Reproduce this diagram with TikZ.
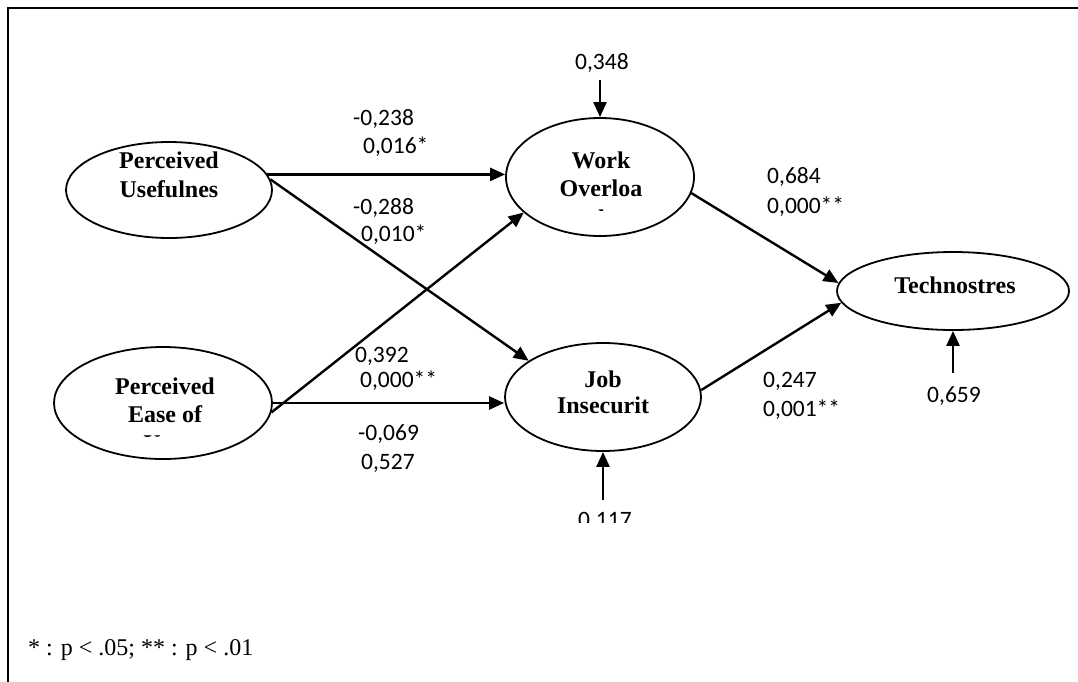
\documentclass[tikz,border=0pt]{standalone}
\usepackage{fontspec}
\setmainfont{Liberation Serif}
\newfontfamily\numfont{Carlito}
\usetikzlibrary{shapes.geometric,arrows.meta}
\tikzset{
  construct/.style={draw, ellipse, line width=1.8pt, inner sep=0pt},
  ctext/.style={anchor=base, font=\fontsize{24}{28}\selectfont\bfseries, inner sep=0pt},
  coef/.style={anchor=base west, font=\numfont\fontsize{23.5}{27}\selectfont, inner sep=0pt},
  path/.style={line width=2.4pt, -{Triangle[length=15pt,width=13pt]}},
}
\begin{document}
\begin{tikzpicture}[x=1pt,y=-1pt]
\useasboundingbox (0,0) rectangle (1078,681);
% outer frame
\draw[line width=2pt] (8,700) -- (8,8) -- (1090,8);

% latent constructs
\node[construct, minimum width=206pt, minimum height=96pt]  (pu)   at (169,190) {};
\node[construct, minimum width=218pt, minimum height=112pt] (peu)  at (163,403) {};
\node[construct, minimum width=188pt, minimum height=118pt] (wo)   at (600,177) {};
\node[construct, minimum width=196pt, minimum height=108pt] (ji)   at (603,397) {};
\node[construct, minimum width=232pt, minimum height=78pt]  (tech) at (953,291) {};

% construct labels
\node[ctext] (pu1) at (169,168) {Perceived};
\node[ctext] (pu2) at (169,197) {Usefulnes};
\node[ctext] (pe1) at (165,394) {Perceived};
\node[ctext] (pe2) at (165,422) {Ease of};
\begin{scope}
  \clip (100,425) rectangle (230,436);
  \node[ctext] (pe3) at (152,451) {U};
\end{scope}
\node[ctext] (wo1) at (601,168) {Work};
\node[ctext] (wo2) at (601,196) {Overloa};
\begin{scope}
  \clip (560,203) rectangle (650,210);
  \node[ctext] (wo3) at (598,226) {d};
\end{scope}
\node[ctext] (ji1) at (603,387) {Job};
\node[ctext] (ji2) at (603,413) {Insecurit};
\node[ctext] (te1) at (955,293) {Technostres};

% error terms
\coordinate (ewo) at (600,80);
\coordinate (eji) at (603,500);
\coordinate (ete) at (953,373);
\node[coef] (c348) at (575,69) {0,348};
\begin{scope}
  \clip (560,495) rectangle (650,522);
  \node[coef] (c117) at (578,527) {0,117};
\end{scope}
\node[coef] (c659) at (927,402) {0,659};
\draw[path] (ewo) -- (wo.north);
\draw[path] (eji) -- (ji.south);
\draw[path] (ete) -- (tech.south);

% structural paths
\draw[path] (pu.9) -- (pu.9 -| wo.west);
\draw[path] (pu.6) -- (ji.154);
\draw[path] (peu.-5) -- (wo.205);
\draw[path] (peu.east) -- (peu.east -| ji.west);
\draw[path] (wo.-10) -- (tech.176);
\draw[path] (ji.4) -- (tech.186);

% path coefficients and p-values
\node[coef] (a1) at (353,125) {-0,238};
\node[coef] (a2) at (363,153) {0,016*};
\node[coef] (b1) at (353,214) {-0,288};
\node[coef] (b2) at (361,241) {0,010*};
\node[coef] (d1) at (355,362) {0,392};
\node[coef] (d2) at (360,387) {0,000**};
\node[coef] (f1) at (358,440) {-0,069};
\node[coef] (f2) at (361,469) {0,527};
\node[coef] (g1) at (767,183) {0,684};
\node[coef] (g2) at (767,213) {0,000**};
\node[coef] (h1) at (763,387) {0,247};
\node[coef] (h2) at (763,416) {0,001**};

% significance legend
\node[anchor=base west, inner sep=0pt, font=\fontsize{24}{28}\selectfont] (legend) at (28,655) {* : p < .05; ** : p < .01};
\end{tikzpicture}
\end{document}
